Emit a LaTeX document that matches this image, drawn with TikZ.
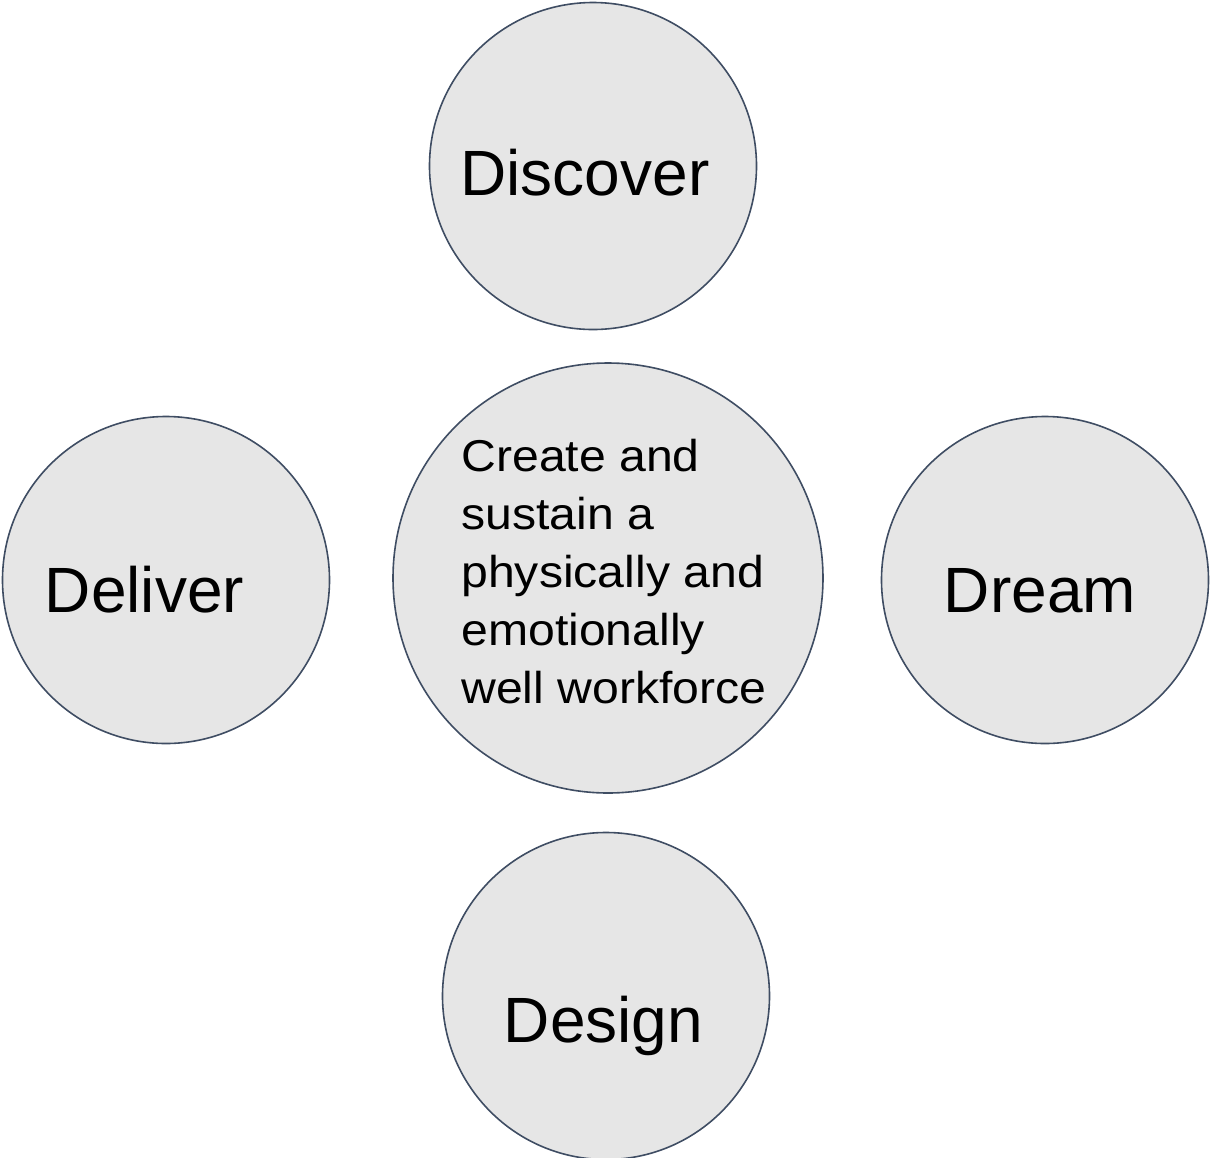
\documentclass[tikz,border=0pt]{standalone}
\usepackage{fontspec}
\setmainfont{Liberation Sans}
\newfontfamily\widesans[FakeStretch=1.08]{Liberation Sans}

\definecolor{ringgray}{HTML}{E6E6E6}
\definecolor{ringline}{HTML}{3F4D63}

\begin{document}
\begin{tikzpicture}[x=0.5pt, y=-0.5pt,
    stage/.style={circle, draw=ringline, fill=ringgray, line width=0.8pt, inner sep=0pt, minimum size=163.5pt},
    goal/.style={stage, minimum size=215pt},
    biglbl/.style={inner sep=0pt, anchor=base, font=\fontsize{32}{38}\selectfont},
    goallbl/.style={inner sep=0pt, anchor=north west, align=left, font=\widesans\fontsize{22.3}{29}\selectfont}]
    \useasboundingbox (0,0) rectangle (1212,1158);

    \node[stage] (disc) at (593,166) {}; % top
    \node[stage] (deliv) at (166,580) {}; % left
    \node[stage] (dream) at (1045,580) {}; % right
    \node[stage] (desg) at (606,996) {}; % bottom
    \node[goal] (aim) at (608,578) {}; % middle

    \node[biglbl] (disc-t) at (585,195) {Discover};
    \node[biglbl] (deliv-t) at (144.5,612) {Deliver};
    \node[biglbl] (dream-t) at (1040,612) {Dream};
    \node[biglbl] (desg-t) at (603.5,1042) {Design};

    \node[goallbl] (aim-t) at (461,439) {Create and\\sustain a\\physically and\\emotionally\\well workforce};
\end{tikzpicture}
\end{document}
